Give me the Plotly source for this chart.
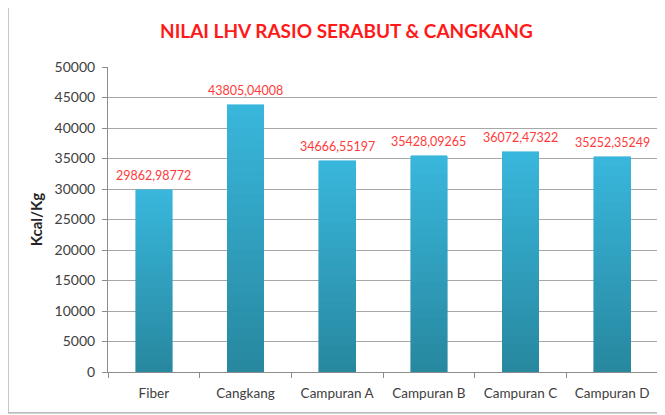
import plotly.graph_objects as go

categories = ["Fiber", "Cangkang", "Campuran A", "Campuran B", "Campuran C", "Campuran D"]
values = [29862.98772, 43805.04008, 34666.55197, 35428.09265, 36072.47322, 35252.35249]
y_ticks = [0, 5000, 10000, 15000, 20000, 25000, 30000, 35000, 40000, 45000, 50000]

FONT = "Lato"
top_rgb = (56, 182, 219)
bot_rgb = (40, 136, 160)
N = 24

fig = go.Figure()
for i in range(N):
    t = i / (N - 1)
    r = [round(bot_rgb[k] + (top_rgb[k] - bot_rgb[k]) * t) for k in range(3)]
    fig.add_trace(go.Bar(
        x=categories, y=[v / N for v in values],
        marker=dict(color=f"rgb({r[0]},{r[1]},{r[2]})", line=dict(width=0.6, color=f"rgb({r[0]},{r[1]},{r[2]})")),
        showlegend=False, hoverinfo="skip",
    ))

for c, v in zip(categories, values):
    fig.add_annotation(x=c, y=v, text=f"{v:.5f}".replace(".", ","), showarrow=False,
                       yanchor="bottom", yshift=5, font=dict(family=FONT, size=12.5, color="#FF3A3A"))

# outer chart border (paper x: 0 at px 100, width 550; paper y: 0 at px 364, height 305)
fig.add_shape(type="rect", xref="paper", yref="paper", x0=-0.1818, x1=1.05, y0=-0.134, y1=1.213,
              line=dict(color="#A6A6A6", width=1.2), fillcolor="rgba(0,0,0,0)", layer="below")

fig.update_layout(
    barmode="stack", bargap=0.6,
    width=657, height=407,
    margin=dict(l=100, r=7, t=59, b=43),
    paper_bgcolor="white", plot_bgcolor="white",
    title=dict(text="<b>NILAI LHV RASIO SERABUT & CANGKANG</b>", x=0.515, xanchor="center", y=0.942, yanchor="middle",
               font=dict(family=FONT, size=19, color="#FF1A1A")),
    xaxis=dict(showline=True, linecolor="#8C8C8C", linewidth=1, ticks="outside", tickson="boundaries",
               ticklen=5, tickcolor="#8C8C8C", tickfont=dict(family=FONT, size=13.5, color="#404040"),
               ticklabelstandoff=9, showgrid=False),
    yaxis=dict(range=[0, 50000], tickvals=y_ticks, ticktext=[str(t) for t in y_ticks],
               showline=True, linecolor="#8C8C8C", linewidth=1, ticks="outside", ticklen=5,
               tickcolor="#8C8C8C", gridcolor="#A8A8A8", gridwidth=1,
               ticklabelstandoff=4,
               tickfont=dict(family=FONT, size=14, color="#404040"),
               title=dict(text="<b>Kcal/Kg</b>", font=dict(family=FONT, size=15, color="#262626"), standoff=8)),
)

fig.write_html("out.html")
